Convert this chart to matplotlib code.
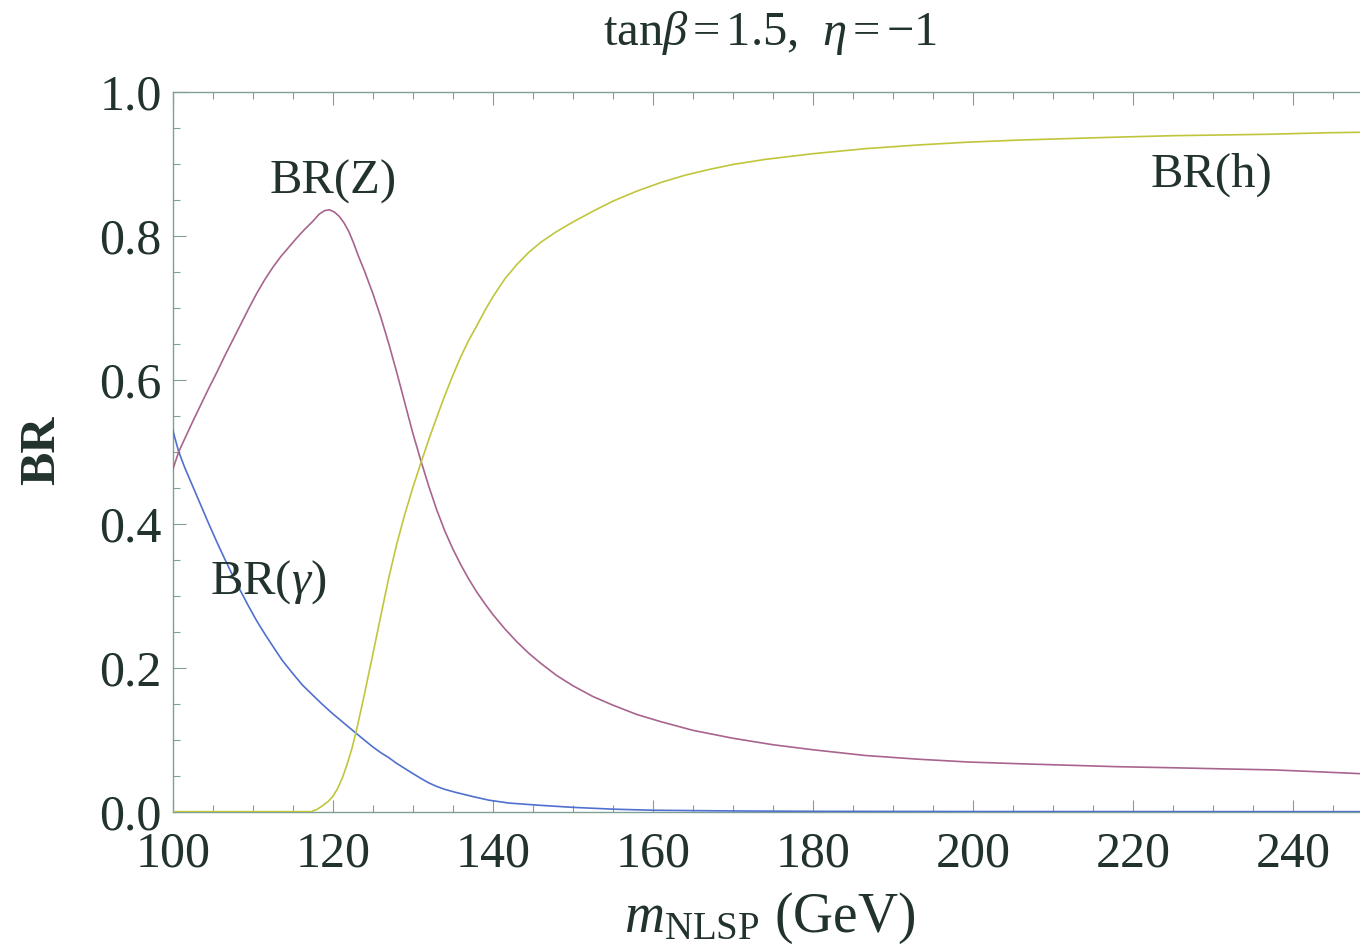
import matplotlib
matplotlib.use("Agg")
import matplotlib.pyplot as plt
from matplotlib.ticker import MultipleLocator

# BR(gamma)
mass_gamma = [100, 100.75, 101.5, 102.5, 103.5, 104.5, 105.5, 106.5, 107.5, 108.5, 109.5,
              110.5, 111.5, 112.5, 113.7, 115, 116.2, 117.4, 118.7, 120, 121.4, 122.8, 124,
              125, 126, 127, 128, 129, 130, 131.2, 132, 133, 134, 135.3, 137.5, 139.5, 142,
              145.7, 150, 155, 160, 170, 180, 200, 250]
br_gamma = [0.53, 0.50, 0.478, 0.452, 0.426, 0.40, 0.375, 0.351, 0.328, 0.306, 0.285,
            0.265, 0.247, 0.23, 0.21, 0.192, 0.176, 0.163, 0.149, 0.136, 0.123, 0.11, 0.099,
            0.09, 0.082, 0.075, 0.067, 0.06, 0.053, 0.045, 0.04, 0.035, 0.031, 0.027, 0.021,
            0.016, 0.012, 0.009, 0.006, 0.0035, 0.002, 0.001, 0.0005, 0.0002, 0.0]

# BR(Z)
mass_z = [100, 100.75, 101.5, 102.5, 103.5, 104.5, 105.5, 106.5, 107.5, 108.5, 109.5, 110.5,
          111.5, 112.5, 113.5, 114.5, 115.5, 116.5, 117.5, 118.3, 119, 119.6, 120.2, 120.8,
          121.4, 122, 122.6, 123.2, 124, 125, 126, 127, 128, 129, 130, 131, 132, 133, 134,
          135, 136, 137, 138, 139, 140, 141.5, 143, 144.5, 146, 148, 150, 152.5, 155, 158,
          161, 165, 170, 175, 180, 186.6, 193, 199.4, 206, 212, 218, 225, 231, 237.6, 244, 250]
br_z = [0.475, 0.50, 0.518, 0.542, 0.565, 0.588, 0.61, 0.633, 0.655, 0.677, 0.699, 0.72,
        0.739, 0.756, 0.771, 0.784, 0.797, 0.809, 0.82, 0.83, 0.835, 0.836, 0.833, 0.827,
        0.818, 0.806, 0.79, 0.772, 0.75, 0.72, 0.687, 0.65, 0.61, 0.568, 0.526, 0.488, 0.452,
        0.419, 0.39, 0.365, 0.343, 0.323, 0.305, 0.289, 0.274, 0.254, 0.236, 0.22, 0.206,
        0.189, 0.175, 0.16, 0.148, 0.135, 0.125, 0.113, 0.102, 0.093, 0.086, 0.078, 0.073,
        0.069, 0.0665, 0.0645, 0.0625, 0.061, 0.0595, 0.058, 0.055, 0.052]

# BR(h)
mass_h = [100, 117.3, 118, 118.7, 119.4, 120, 120.6, 121.2, 121.8, 122.4, 123, 123.8, 124.9,
          126, 127, 128, 129, 130, 131, 132, 133, 134, 135, 136, 137, 138, 139, 140, 141.5,
          143, 144.5, 146, 148, 150, 152.5, 155, 158, 161, 164, 167, 170, 174, 180, 186.6,
          193, 199.4, 206, 212, 218, 225, 231, 237, 244, 250]
br_h = [0.0, 0.0, 0.003, 0.008, 0.014, 0.021, 0.032, 0.047, 0.066, 0.088, 0.115, 0.155,
        0.213, 0.272, 0.325, 0.372, 0.413, 0.45, 0.484, 0.517, 0.548, 0.578, 0.606, 0.632,
        0.655, 0.675, 0.696, 0.715, 0.74, 0.76, 0.777, 0.791, 0.806, 0.819, 0.834, 0.848,
        0.862, 0.874, 0.884, 0.892, 0.899, 0.906, 0.914, 0.921, 0.926, 0.930, 0.933, 0.935,
        0.937, 0.939, 0.940, 0.941, 0.943, 0.944]

plt.rcParams['font.family'] = 'Liberation Serif'
plt.rcParams['mathtext.fontset'] = 'custom'
plt.rcParams['mathtext.rm'] = 'Liberation Serif'
plt.rcParams['mathtext.it'] = 'Liberation Serif:italic'
plt.rcParams['mathtext.bf'] = 'Liberation Serif:bold'

text_col = '#22332e'
frame_col = '#80a096'

fig = plt.figure(figsize=(13.6, 9.51), dpi=100)
ax = fig.add_axes([0.127, 0.1465, 0.8826, 0.757])

ax.plot(mass_gamma, br_gamma, color='#5070d0', lw=1.2, zorder=3)
ax.plot(mass_z, br_z, color='#a8648e', lw=1.2, zorder=3)
ax.plot(mass_h, br_h, color='#c0c63c', lw=1.2, zorder=3)

ax.set_xlim(100, 250)
ax.set_ylim(0, 1)
ax.xaxis.set_major_locator(MultipleLocator(20))
ax.xaxis.set_minor_locator(MultipleLocator(5))
ax.yaxis.set_major_locator(MultipleLocator(0.2))
ax.yaxis.set_minor_locator(MultipleLocator(0.05))
ax.yaxis.set_major_formatter(plt.FormatStrFormatter('%.1f'))

for s in ax.spines.values():
    s.set_color(frame_col)
    s.set_linewidth(1.0)
ax.tick_params(which='both', direction='in', top=True, right=True, color=frame_col,
               width=0.8, labelsize=36, labelcolor=text_col)
ax.tick_params(which='major', length=9)
ax.tick_params(which='minor', length=5)
ax.tick_params(axis='x', pad=14)
ax.tick_params(axis='y', pad=8)

ax.text(120.0, 0.875, 'BR(Z)', fontsize=35, color=text_col, ha='center', va='center')
ax.text(111.9, 0.319, r'BR($\gamma$)', fontsize=35, color=text_col, ha='center', va='center')
ax.text(229.8, 0.884, 'BR(h)', fontsize=35, color=text_col, ha='center', va='center')

fig.text(0.566, 1 - 33 / 951, r'tan$\beta\,$=$\,$1.5,  $\eta\,$=$\,$−1', fontsize=35,
         color=text_col, ha='center', va='center')

ax.set_xlabel(r'$m_{\mathrm{NLSP}}$ (GeV)', fontsize=40, color=text_col)
ax.xaxis.set_label_coords(0.4976, -0.148)
ax.xaxis.label.set_va('center')
ax.set_ylabel('BR', fontsize=36, fontweight='bold', color=text_col)
ax.yaxis.set_label_coords(-0.1089, 0.502)
ax.yaxis.label.set_va('center')

fig.savefig('out.png', dpi=100)
